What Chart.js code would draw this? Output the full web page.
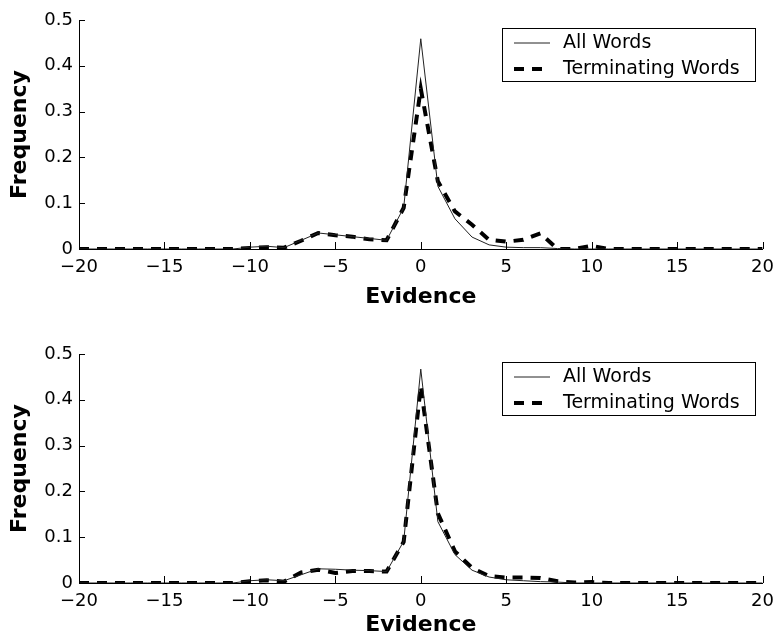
<!DOCTYPE html>
<html>
<head>
<meta charset="utf-8">
<script src="https://cdn.jsdelivr.net/npm/chart.js@4.4.1/dist/chart.umd.min.js"></script>
<style>
  html, body { margin: 0; padding: 0; background: #fff; overflow: hidden; }
  canvas { position: absolute; left: 0; }
  #topChart { top: 0; }
  #bottomChart { top: 325px; }
</style>
</head>
<body>
<canvas id="topChart" width="782" height="310"></canvas>
<canvas id="bottomChart" width="782" height="310"></canvas>
<script>
// evidence values (x axis), one point per integer
var evidence = [-20, -19, -18, -17, -16, -15, -14, -13, -12, -11,
                -10, -9, -8, -7, -6, -5, -4, -3, -2, -1,
                0, 1, 2, 3, 4, 5, 6, 7, 8, 9, 10,
                11, 12, 13, 14, 15, 16, 17, 18, 19, 20];

// top panel
var allWordsTop = [0, 0, 0, 0, 0, 0, 0, 0, 0, 0,
                   0.004, 0.006, 0.003, 0.019, 0.035, 0.031, 0.027, 0.023, 0.019, 0.09,
                   0.459, 0.137, 0.066, 0.026, 0.009, 0.004, 0.003, 0.003, 0.001, 0, 0,
                   0, 0, 0, 0, 0, 0, 0, 0, 0, 0];
var termWordsTop = [0, 0, 0, 0, 0, 0, 0, 0, 0, 0,
                    0.002, 0.004, 0.003, 0.018, 0.035, 0.03, 0.027, 0.021, 0.019, 0.09,
                    0.35, 0.148, 0.082, 0.053, 0.02, 0.016, 0.02, 0.034, 0, 0, 0.007,
                    0, 0, 0, 0, 0, 0, 0, 0, 0, 0];

// bottom panel
var allWordsBottom = [0, 0, 0, 0, 0, 0, 0, 0, 0, 0,
                      0.005, 0.007, 0.005, 0.018, 0.031, 0.03, 0.028, 0.027, 0.025, 0.091,
                      0.467, 0.134, 0.062, 0.028, 0.013, 0.007, 0.005, 0.003, 0.002, 0, 0,
                      0, 0, 0, 0, 0, 0, 0, 0, 0, 0];
var termWordsBottom = [0, 0, 0, 0, 0, 0, 0, 0, 0, 0,
                       0.004, 0.006, 0.003, 0.023, 0.029, 0.022, 0.026, 0.026, 0.025, 0.09,
                       0.43, 0.152, 0.069, 0.033, 0.015, 0.012, 0.012, 0.011, 0.004, 0.001, 0.002,
                       0, 0, 0, 0, 0, 0, 0, 0, 0, 0];

var seriesNames = ['All Words', 'Terminating Words'];

function pts(ys) {
  return evidence.map(function (x, i) { return { x: x, y: ys[i] }; });
}

// little tick marks pointing into the plot, matlab style
var inwardTicks = {
  id: 'inwardTicks',
  afterDatasetsDraw: function (chart) {
    var ctx = chart.ctx, a = chart.chartArea;
    var xs = chart.scales.x, ys = chart.scales.y;
    ctx.save();
    ctx.strokeStyle = '#000';
    ctx.lineWidth = 1;
    ctx.beginPath();
    xs.ticks.forEach(function (t) {
      var px = Math.round(xs.getPixelForValue(t.value)) + 0.5;
      ctx.moveTo(px, a.bottom);
      ctx.lineTo(px, a.bottom - 7);
    });
    ys.ticks.forEach(function (t) {
      var py = Math.round(ys.getPixelForValue(t.value)) + 0.5;
      ctx.moveTo(a.left, py);
      ctx.lineTo(a.left + 6, py);
    });
    ctx.stroke();
    ctx.restore();
  }
};

// boxed legend in the upper right corner of the axes
var boxLegend = {
  id: 'boxLegend',
  afterDraw: function (chart) {
    var ctx = chart.ctx, a = chart.chartArea;
    var left = Math.round(a.right - 261), top = Math.round(a.top + 8);
    ctx.save();
    ctx.fillStyle = '#fff';
    ctx.fillRect(left, top, 253, 53);
    ctx.strokeStyle = '#000';
    ctx.lineWidth = 1;
    ctx.strokeRect(left + 0.5, top + 0.5, 253, 53);
    ctx.font = '19px "DejaVu Sans"';
    ctx.textBaseline = 'middle';
    chart.data.datasets.forEach(function (ds, i) {
      var y = top + 15 + i * 26;
      ctx.beginPath();
      ctx.lineWidth = ds.borderWidth;
      ctx.strokeStyle = ds.borderColor;
      ctx.setLineDash(ds.borderDash || []);
      ctx.moveTo(left + 12, y);
      ctx.lineTo(left + 48, y);
      ctx.stroke();
      ctx.setLineDash([]);
      ctx.fillStyle = '#000';
      ctx.fillText(ds.label, left + 61, y);
    });
    ctx.restore();
  }
};

function makeChart(id, allVals, termVals, padTop, titlePadBottom) {
  var ctx = document.getElementById(id).getContext('2d');
  return new Chart(ctx, {
    type: 'line',
    data: {
      datasets: [{
        label: seriesNames[0],
        data: pts(allVals),
        borderColor: '#222',
        borderWidth: 1,
        pointRadius: 0,
        tension: 0
      }, {
        label: seriesNames[1],
        data: pts(termVals),
        borderColor: '#000',
        borderWidth: 4,
        borderDash: [10, 8],
        pointRadius: 0,
        tension: 0
      }]
    },
    options: {
      responsive: false,
      animation: false,
      layout: { padding: { top: padTop, right: 15, left: 0, bottom: 0 } },
      plugins: { legend: { display: false }, tooltip: { enabled: false } },
      scales: {
        x: {
          type: 'linear',
          min: -20,
          max: 20,
          afterFit: function (s) { s.height = 310 - padTop - 229; },
          grid: { drawOnChartArea: false, drawTicks: false },
          border: { color: '#000', width: 1 },
          ticks: {
            stepSize: 5,
            padding: 8,
            color: '#000',
            font: { family: 'DejaVu Sans', size: 18 },
            callback: function (v) { return String(v).replace('-', '\u2212'); }
          },
          title: {
            display: true,
            text: 'Evidence',
            color: '#000',
            font: { family: 'DejaVu Sans', size: 22, weight: 'bold', lineHeight: 0.85 },
            padding: { top: 0, bottom: titlePadBottom }
          }
        },
        y: {
          min: 0,
          max: 0.5,
          afterFit: function (s) { s.width = 79; },
          grid: { drawOnChartArea: false, drawTicks: false },
          border: { color: '#000', width: 1 },
          ticks: {
            stepSize: 0.1,
            padding: 6,
            color: '#000',
            font: { family: 'DejaVu Sans', size: 18 },
            callback: function (v) { return String(Number(v.toFixed(1))); }
          },
          title: {
            display: true,
            text: 'Frequency',
            color: '#000',
            font: { family: 'DejaVu Sans', size: 22, weight: 'bold', lineHeight: 0.85 },
            padding: { top: 11, bottom: 0 }
          }
        }
      }
    },
    plugins: [inwardTicks, boxLegend]
  });
}

makeChart('topChart', allWordsTop, termWordsTop, 20, 3);
makeChart('bottomChart', allWordsBottom, termWordsBottom, 29, 0);
</script>
</body>
</html>
